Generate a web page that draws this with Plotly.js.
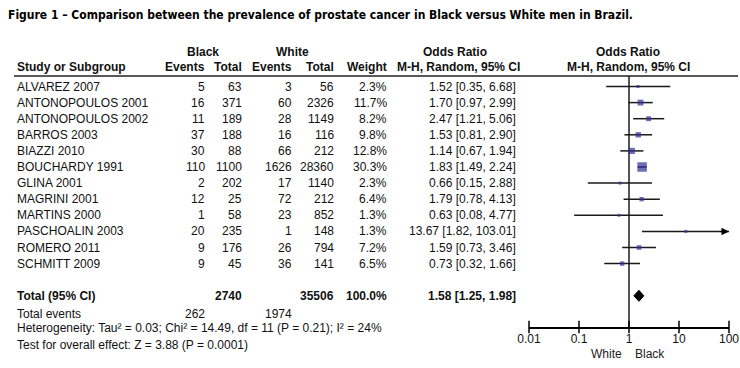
<!DOCTYPE html>
<html>
<head>
<meta charset="utf-8">
<script src="https://cdn.plot.ly/plotly-3.0.1.min.js"></script>
<style>html,body{margin:0;padding:0;background:#fff;}#chart{width:740px;height:368px;}</style>
</head>
<body>
<div id="chart"></div>
<script>
// ---- data ----
const studies = ["ALVAREZ 2007","ANTONOPOULOS 2001","ANTONOPOULOS 2002","BARROS 2003","BIAZZI 2010","BOUCHARDY 1991","GLINA 2001","MAGRINI 2001","MARTINS 2000","PASCHOALIN 2003","ROMERO 2011","SCHMITT 2009"];
const blackEvents = [5,16,11,37,30,110,2,12,1,20,9,9];
const blackTotal = [63,371,189,188,88,1100,202,25,58,235,176,45];
const whiteEvents = [3,60,28,16,66,1626,17,72,23,1,26,36];
const whiteTotal = [56,2326,1149,116,212,28360,1140,212,852,148,794,141];
const weights = [2.3,11.7,8.2,9.8,12.8,30.3,2.3,6.4,1.3,1.3,7.2,6.5];
const orEst = [1.52,1.70,2.47,1.53,1.14,1.83,0.66,1.79,0.63,13.67,1.59,0.73];
const orLow = [0.35,0.97,1.21,0.81,0.67,1.49,0.15,0.78,0.08,1.82,0.73,0.32];
const orHigh = [6.68,2.99,5.06,2.90,1.94,2.24,2.88,4.13,4.77,103.01,3.46,1.66];
const totalBlack = 2740, totalWhite = 35506, totalWeight = 100.0;
const totalOR = [1.58, 1.25, 1.98];
const totalEventsBlack = 262, totalEventsWhite = 1974;
const heterogeneityText = "Heterogeneity: Tau\u00b2 = 0.03; Chi\u00b2 = 14.49, df = 11 (P = 0.21); I\u00b2 = 24%";
const overallText = "Test for overall effect: Z = 3.88 (P = 0.0001)";
const tickVals = [0.01,0.1,1,10,100];
const tickText = ["0.01","0.1","1","10","100"];
const titleText = "Figure 1 \u2013 Comparison between the prevalence of prostate cancer in Black versus White men in Brazil.";

// ---- layout helpers ----
const W = 740, H = 368;
const ROW0 = 86.5, ROWH = 16.1;
const AXIS_Y = 327, HEAD_LINE_Y = 76;
const HEAD1_Y = 52, HEAD2_Y = 67;
const px = v => v / W;
const py = v => 1 - v / H;
const rowOf = v => (v - ROW0) / ROWH;
const FONT = "Liberation Sans, Arial, sans-serif";
const TXT = "#111";
const XMAX = 100;

const totalRow = 13;
const fmt2 = v => v.toFixed(2);
const ciText = (e,l,h) => fmt2(e) + " [" + fmt2(l) + ", " + fmt2(h) + "]";

const ann = [];
function txt(text, xpix, y, anchor, bold, yref) {
  ann.push({text: bold ? "<b>"+text+"</b>" : text, x: px(xpix), xref: "paper",
    y: y, yref: yref || "y", xanchor: anchor, yanchor: "middle", showarrow: false,
    font: {family: FONT, size: 12, color: TXT}, borderpad: 0});
}
// headers
txt("Black", 203, py(HEAD1_Y), "center", true, "paper");
txt("White", 292, py(HEAD1_Y), "center", true, "paper");
txt("Odds Ratio", 455, py(HEAD1_Y), "center", true, "paper");
txt("Odds Ratio", 628, py(HEAD1_Y), "center", true, "paper");
txt("Study or Subgroup", 16, py(HEAD2_Y), "left", true, "paper");
txt("Events", 206, py(HEAD2_Y), "right", true, "paper");
txt("Total", 243, py(HEAD2_Y), "right", true, "paper");
txt("Events", 293, py(HEAD2_Y), "right", true, "paper");
txt("Total", 335, py(HEAD2_Y), "right", true, "paper");
txt("Weight", 388, py(HEAD2_Y), "right", true, "paper");
txt("M-H, Random, 95% CI", 458, py(HEAD2_Y), "center", true, "paper");
txt("M-H, Random, 95% CI", 628, py(HEAD2_Y), "center", true, "paper");

studies.forEach((s, i) => {
  txt(s, 16, i, "left");
  txt(String(blackEvents[i]), 206, i, "right");
  txt(String(blackTotal[i]), 243, i, "right");
  txt(String(whiteEvents[i]), 293, i, "right");
  txt(String(whiteTotal[i]), 335, i, "right");
  txt(weights[i].toFixed(1) + "%", 388, i, "right");
  txt(ciText(orEst[i], orLow[i], orHigh[i]), 517, i, "right");
  if (orHigh[i] > XMAX) {
    ann.push({x: Math.log10(XMAX), y: i, xref: "x", yref: "y", ax: -10, ay: 0,
      axref: "pixel", ayref: "pixel", showarrow: true, arrowhead: 2, arrowsize: 1,
      arrowwidth: 1.5, arrowcolor: "#000", text: ""});
  }
});
txt("Total (95% CI)", 16, totalRow, "left", true);
txt(String(totalBlack), 243, totalRow, "right", true);
txt(String(totalWhite), 335, totalRow, "right", true);
txt(totalWeight.toFixed(1) + "%", 388, totalRow, "right", true);
txt(ciText(totalOR[0], totalOR[1], totalOR[2]), 517, totalRow, "right", true);
txt("Total events", 16, 14.1, "left");
txt(String(totalEventsBlack), 206, 14.1, "right");
txt(String(totalEventsWhite), 293, 14.1, "right");
txt(heterogeneityText, 16, 15.0, "left");
txt(overallText, 16, 16.05, "left");
ann.push({text: "White", x: px(606), xref: "paper", y: py(354), yref: "paper", showarrow: false,
  xanchor: "center", yanchor: "middle", font: {family: FONT, size: 12, color: "#222"}});
ann.push({text: "Black", x: px(650), xref: "paper", y: py(354), yref: "paper", showarrow: false,
  xanchor: "center", yanchor: "middle", font: {family: FONT, size: 12, color: "#222"}});

// ---- traces ----
const ciX = [], ciY = [];
studies.forEach((s, i) => { ciX.push(orLow[i], Math.min(orHigh[i], XMAX), null); ciY.push(i, i, null); });
const ciTrace = {type: "scatter", mode: "lines", x: ciX, y: ciY, xaxis: "x", yaxis: "y",
  line: {color: "#1a1a1a", width: 1.5}, hoverinfo: "skip", showlegend: false};

const nullLine = {type: "scatter", mode: "lines", x: [1, 1],
  y: [rowOf(HEAD_LINE_Y), rowOf(AXIS_Y)], xaxis: "x", yaxis: "y",
  line: {color: "#2a2a2a", width: 1.6}, hoverinfo: "skip", showlegend: false};

const sq = {type: "scatter", mode: "markers", x: orEst, y: studies.map((s, i) => i),
  xaxis: "x", yaxis: "y",
  marker: {symbol: "square", color: "#30309a", size: weights.map(w => Math.max(3, 9.5 * Math.sqrt(w / 30.3))), line: {width: 0}},
  hoverinfo: "skip", showlegend: false};

const dh = 0.34;
const diamond = {type: "scatter", mode: "lines", fill: "toself", fillcolor: "#000",
  x: [totalOR[1], totalOR[0], totalOR[2], totalOR[0], totalOR[1]],
  y: [totalRow, totalRow - dh, totalRow, totalRow + dh, totalRow],
  xaxis: "x", yaxis: "y", line: {color: "#000", width: 1}, hoverinfo: "skip", showlegend: false};

// tick marks crossing the axis line (both directions)
const tickMarks = {type: "scatter", mode: "markers", x: tickVals, y: tickVals.map(() => rowOf(AXIS_Y)),
  xaxis: "x", yaxis: "y", cliponaxis: false,
  marker: {symbol: "line-ns", size: 9, line: {color: "#000", width: 1.5}},
  hoverinfo: "skip", showlegend: false};

const xdom = [px(529), px(729)];
const layout = {
  width: W, height: H, margin: {l: 0, r: 0, t: 0, b: 0},
  paper_bgcolor: "#fff", plot_bgcolor: "rgba(0,0,0,0)", showlegend: false,
  title: {text: "<b>" + titleText + "</b>", x: px(8), xanchor: "left", xref: "paper",
    y: py(15), yanchor: "middle", yref: "paper",
    font: {family: "DejaVu Sans Condensed, Liberation Sans Narrow, sans-serif", size: 12, color: "#000"}},
  xaxis: {type: "log", range: [Math.log10(tickVals[0]), Math.log10(tickVals[tickVals.length - 1])],
    domain: xdom, anchor: "free", position: py(AXIS_Y),
    tickvals: tickVals, ticktext: tickText, ticks: "", ticklabelstandoff: 0,
    showline: true, linecolor: "#000", linewidth: 1.5, showgrid: false, zeroline: false,
    tickfont: {family: FONT, size: 12, color: TXT}, fixedrange: true},
  yaxis: {range: [rowOf(H), rowOf(0)], domain: [0, 1], visible: false, fixedrange: true},
  shapes: [{type: "line", xref: "paper", yref: "paper", x0: px(14), x1: px(738),
    y0: py(HEAD_LINE_Y), y1: py(HEAD_LINE_Y), line: {color: "#222", width: 1.5}}],
  annotations: ann
};
Plotly.newPlot("chart", [nullLine, ciTrace, sq, diamond, tickMarks], layout, {staticPlot: true, displayModeBar: false});
</script>
</body>
</html>
